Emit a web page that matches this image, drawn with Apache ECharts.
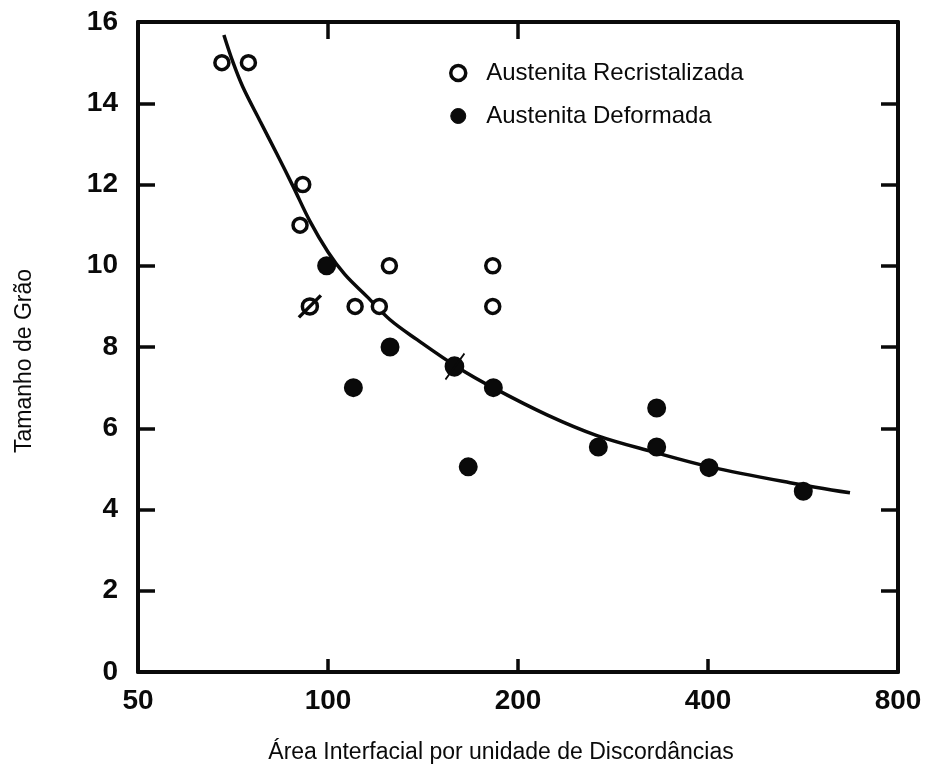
<!DOCTYPE html>
<html>
<head>
<meta charset="utf-8">
<title>Tamanho de Grão × Área Interfacial</title>
<script src="https://cdn.jsdelivr.net/npm/echarts@6/dist/echarts.min.js"></script>
<style>
  html, body { margin: 0; padding: 0; background: #fff; }
  #chart { width: 928px; height: 772px; }
</style>
</head>
<body>
<div id="chart"></div>
<script>
// Axis ticks
const xTickLabels = [50, 100, 200, 400, 800];
const yTickLabels = [0, 2, 4, 6, 8, 10, 12, 14, 16];

// Austenita Recristalizada (open circles)
const recX = [67.9, 74.8, 91.2, 90.3, 93.6, 110.4, 120.6, 125.1, 182.4, 182.4];
const recY = [15, 15, 12, 11, 9, 9, 9, 10, 10, 9];

// Austenita Deformada (filled circles)
const defX = [99.5, 125.4, 109.7, 158.9, 182.8, 166.8, 268.1, 331.7, 331.7, 401.5, 566.3];
const defY = [10, 8, 7, 7.52, 7, 5.05, 5.54, 6.5, 5.54, 5.03, 4.45];

// Fitted trend curve
const curveX = [68.4, 70.7, 73.3, 78.0, 83.0, 88.0, 93.6, 100, 106.4, 115.3, 125.4, 138.4, 160.1, 182.6, 222.3, 266.8, 327.3, 402.9, 539.5, 671.5];
const curveY = [15.68, 15.01, 14.40, 13.57, 12.75, 11.96, 11.10, 10.34, 9.78, 9.24, 8.67, 8.18, 7.51, 7.00, 6.33, 5.82, 5.42, 5.05, 4.66, 4.41];

const FONT = "'Liberation Sans', Arial, Helvetica, sans-serif";
const INK = '#0a0a0a';

// Two hand-annotated points: a struck-through open circle and a ticked filled circle
const slashedCircle = 'path://M-11,11 L11,-11 M-7.5,0 A7.5,7.5 0 1,1 7.5,0 A7.5,7.5 0 1,1 -7.5,0 Z';
const tickedDot = 'path://M-9,13 L10,-13 M-9,0 A9,9 0 1,1 9,0 A9,9 0 1,1 -9,0 Z';
const recSpecial = { 4: { symbol: slashedCircle, symbolSize: 22 } };
const defSpecial = { 3: { symbol: tickedDot, symbolSize: [19, 26] } };

function pairs(xs, ys, special) {
  return xs.map((x, i) => {
    const item = { value: [x, ys[i]] };
    if (special && special[i]) Object.assign(item, special[i]);
    return item;
  });
}

const axisLineStyle = { color: INK, width: 4 };
const tickStyle = { color: INK, width: 3.5 };
const tickLabelStyle = { color: INK, fontFamily: FONT, fontWeight: 'bold', fontSize: 28 };

const chart = echarts.init(document.getElementById('chart'), null, { renderer: 'canvas' });

chart.setOption({
  backgroundColor: '#ffffff',
  animation: false,
  grid: { left: 138, right: 30, top: 22, bottom: 100, containLabel: false },
  legend: {
    orient: 'vertical',
    left: 444,
    top: 56,
    itemWidth: 40,
    itemHeight: 15,
    itemGap: 19,
    data: [
      { name: 'Austenita Recristalizada', itemStyle: { color: '#ffffff', borderColor: INK, borderWidth: 3.5 } },
      { name: 'Austenita Deformada', itemStyle: { color: INK, borderColor: INK, borderWidth: 1 } }
    ],
    textStyle: { color: INK, fontFamily: FONT, fontSize: 24, lineHeight: 23, padding: [0, 0, 0, 3] }
  },
  xAxis: [
    {
      type: 'log',
      logBase: 2,
      min: 50,
      max: 800,
      position: 'bottom',
      name: 'Área Interfacial por unidade de Discordâncias',
      nameLocation: 'middle',
      nameGap: 69,
      nameTextStyle: { color: INK, fontFamily: FONT, fontSize: 23, padding: [0, 34, 0, 0] },
      axisLine: { onZero: false, lineStyle: axisLineStyle },
      axisTick: { show: true, inside: true, length: 13, lineStyle: tickStyle, customValues: [100, 200, 400] },
      axisLabel: Object.assign({ margin: 15, customValues: xTickLabels, formatter: v => String(Math.round(v)) }, tickLabelStyle),
      splitLine: { show: false },
      minorTick: { show: false },
      minorSplitLine: { show: false }
    },
    {
      type: 'log',
      logBase: 2,
      min: 50,
      max: 800,
      position: 'top',
      axisLine: { onZero: false, lineStyle: axisLineStyle },
      axisTick: { show: true, inside: true, length: 17, lineStyle: tickStyle, customValues: [100, 200] },
      axisLabel: { show: false },
      splitLine: { show: false }
    }
  ],
  yAxis: [
    {
      type: 'value',
      min: 0,
      max: 16,
      interval: 2,
      position: 'left',
      name: 'Tamanho de Grão',
      nameLocation: 'middle',
      nameGap: 102,
      nameTextStyle: { color: INK, fontFamily: FONT, fontSize: 23, padding: [0, 28, 0, 0] },
      axisLine: { show: true, onZero: false, lineStyle: axisLineStyle },
      axisTick: { show: true, inside: true, length: 17, lineStyle: tickStyle },
      axisLabel: Object.assign({ margin: 20, customValues: yTickLabels }, tickLabelStyle),
      splitLine: { show: false }
    },
    {
      type: 'value',
      min: 0,
      max: 16,
      interval: 2,
      position: 'right',
      axisLine: { show: true, onZero: false, lineStyle: axisLineStyle },
      axisTick: { show: true, inside: true, length: 17, lineStyle: tickStyle },
      axisLabel: { show: false },
      splitLine: { show: false }
    }
  ],
  series: [
    {
      name: 'Curva',
      type: 'line',
      xAxisIndex: 0,
      yAxisIndex: 0,
      smooth: 0.35,
      showSymbol: false,
      silent: true,
      lineStyle: { color: INK, width: 3.5 },
      data: curveX.map((x, i) => [x, curveY[i]]),
      z: 2
    },
    {
      name: 'Austenita Recristalizada',
      type: 'scatter',
      xAxisIndex: 0,
      yAxisIndex: 0,
      symbol: 'circle',
      symbolSize: 14,
      itemStyle: { color: '#ffffff', borderColor: INK, borderWidth: 3.5, opacity: 1 },
      data: pairs(recX, recY, recSpecial),
      z: 3
    },
    {
      name: 'Austenita Deformada',
      type: 'scatter',
      xAxisIndex: 0,
      yAxisIndex: 0,
      symbol: 'circle',
      symbolSize: 17,
      itemStyle: { color: INK, borderColor: INK, borderWidth: 2, opacity: 1 },
      data: pairs(defX, defY, defSpecial),
      z: 3
    }
  ]
});
</script>
</body>
</html>
